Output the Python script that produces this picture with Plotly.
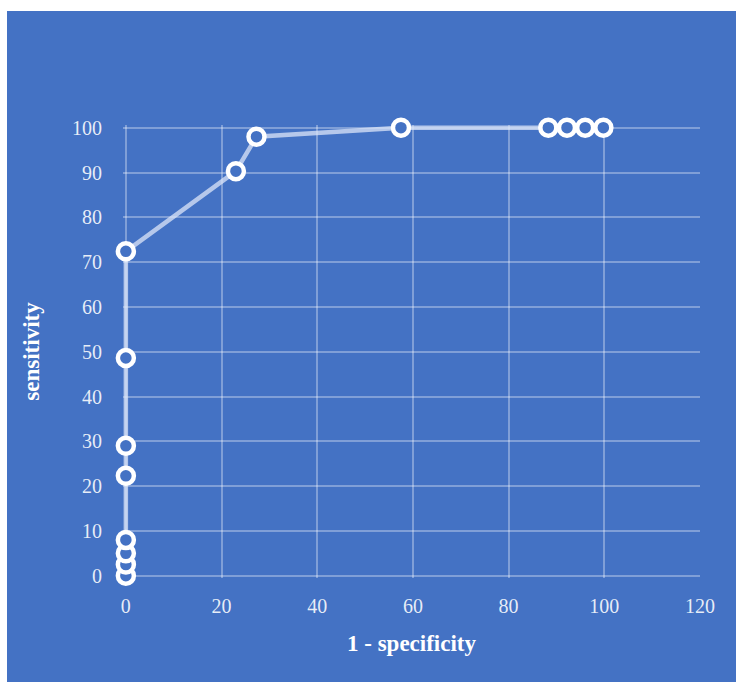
import plotly.graph_objects as go

fpr = [0, 0, 0, 0, 0, 0, 0, 0, 23, 27.3, 57.5, 88.3, 92.2, 96, 99.8]
tpr = [0, 2.5, 5, 8, 22.3, 29, 48.6, 72.4, 90.3, 98, 100, 100, 100, 100, 100]
x_ticks = [0, 20, 40, 60, 80, 100, 120]
y_ticks = [0, 10, 20, 30, 40, 50, 60, 70, 80, 90, 100]

BLUE = "#4472C4"
FONT = "Liberation Serif"

fig = go.Figure()
fig.add_trace(go.Scatter(
    x=fpr, y=tpr, mode="lines+markers",
    line=dict(color="rgba(220,230,248,0.75)", width=4.5),
    marker=dict(size=16, color=BLUE, line=dict(color="white", width=4.5)),
    cliponaxis=False, showlegend=False,
))

W, H = 736, 682
X_RANGE = [-0.6, 120]
Y_RANGE = [-0.5, 100.6]
# pixel mapping: x=0 -> 126, x=120 -> 700 ; y=0 -> 576, y=100 -> 128
sx = (700 - 126) / 120
sy = (576 - 128) / 100
L = round(126 + X_RANGE[0] * sx)
R = W - 700
T = round(128 - (Y_RANGE[1] - 100) * sy)
B = H - round(576 - Y_RANGE[0] * sy)
pw, ph = W - L - R, H - T - B

fig.add_shape(type="rect", xref="paper", yref="paper",
              x0=(7 - L) / pw, x1=(W - L) / pw,
              y0=(T + ph - H) / ph, y1=(T + ph - 11) / ph,
              fillcolor=BLUE, line=dict(width=0), layer="below")

axis_common = dict(
    showgrid=True, gridcolor="rgba(255,255,255,0.32)", gridwidth=1.5,
    zeroline=False, showline=False, ticks="",
    tickfont=dict(family=FONT, size=20, color="rgba(255,255,255,0.88)"),
)
fig.update_xaxes(range=X_RANGE, tickvals=x_ticks, ticklabelstandoff=14,
                 title=dict(text="<b>1 - specificity</b>", standoff=18,
                            font=dict(family=FONT, size=23, color="white")),
                 **axis_common)
fig.update_yaxes(range=Y_RANGE, tickvals=y_ticks, ticklabelstandoff=20,
                 title=dict(text="<b>sensitivity</b>", standoff=25,
                            font=dict(family=FONT, size=23, color="white")),
                 **axis_common)

fig.update_layout(
    width=W, height=H, margin=dict(l=L, r=R, t=T, b=B),
    paper_bgcolor="white", plot_bgcolor="rgba(0,0,0,0)",
)
fig.write_html("out.html", config={"displayModeBar": False},
               post_script="document.body.style.margin='0';")
